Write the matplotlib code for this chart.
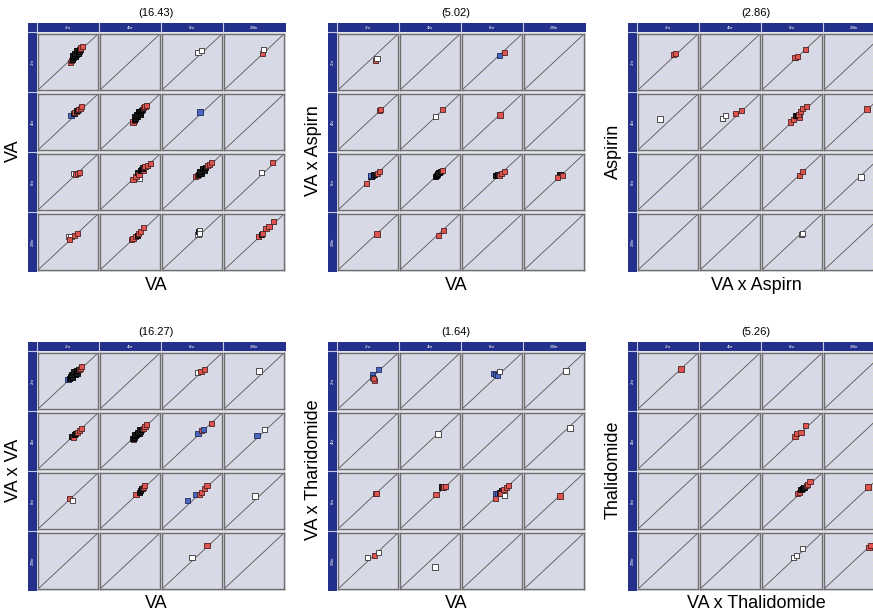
import matplotlib.pyplot as plt
from matplotlib.patches import Rectangle

W, H = 873, 612

TIMES = ['2hr', '4hr', '8hr', '24hr']
TITLES = ['(16.43)', '(5.02)', '(2.86)', '(16.27)', '(1.64)', '(5.26)']
XLABELS = ['VA', 'VA', 'VA x Aspirn', 'VA', 'VA', 'VA x Thalidomide']
YLABELS = ['VA', 'VA x Aspirn', 'Aspirin', 'VA x VA', 'VA x Tharidomide', 'Thalidomide']

# points per panel: (row, col, x, y, kind)   kind: r=red b=blue o=open k=black
va_va = [
    (0, 0, 0.54, 0.49, 'r'), (0, 0, 0.56, 0.53, 'r'), (0, 0, 0.58, 0.56, 'r'), (0, 0, 0.57, 0.55, 'k'),
    (0, 0, 0.59, 0.58, 'k'), (0, 0, 0.60, 0.61, 'k'), (0, 0, 0.62, 0.60, 'k'), (0, 0, 0.62, 0.64, 'k'),
    (0, 0, 0.64, 0.63, 'k'), (0, 0, 0.64, 0.67, 'k'), (0, 0, 0.66, 0.66, 'k'), (0, 0, 0.67, 0.70, 'k'),
    (0, 0, 0.58, 0.62, 'k'), (0, 0, 0.61, 0.66, 'k'), (0, 0, 0.65, 0.71, 'k'), (0, 0, 0.68, 0.66, 'k'),
    (0, 0, 0.69, 0.69, 'k'), (0, 0, 0.70, 0.73, 'k'), (0, 0, 0.71, 0.75, 'r'), (0, 0, 0.74, 0.77, 'r'),
    (0, 2, 0.60, 0.67, 'o'), (0, 2, 0.66, 0.71, 'o'),
    (0, 3, 0.64, 0.65, 'r'), (0, 3, 0.66, 0.73, 'o'),
    (1, 0, 0.55, 0.62, 'b'), (1, 0, 0.60, 0.66, 'k'), (1, 0, 0.61, 0.67, 'r'), (1, 0, 0.64, 0.68, 'r'),
    (1, 0, 0.65, 0.71, 'k'), (1, 0, 0.67, 0.72, 'r'), (1, 0, 0.71, 0.74, 'r'), (1, 0, 0.73, 0.77, 'r'),
    (1, 1, 0.55, 0.50, 'r'), (1, 1, 0.58, 0.52, 'r'), (1, 1, 0.57, 0.54, 'k'), (1, 1, 0.59, 0.56, 'k'),
    (1, 1, 0.60, 0.60, 'k'), (1, 1, 0.62, 0.59, 'k'), (1, 1, 0.63, 0.63, 'k'), (1, 1, 0.65, 0.65, 'k'),
    (1, 1, 0.58, 0.59, 'k'), (1, 1, 0.61, 0.64, 'k'), (1, 1, 0.64, 0.69, 'k'), (1, 1, 0.67, 0.63, 'k'),
    (1, 1, 0.66, 0.68, 'k'), (1, 1, 0.68, 0.67, 'k'), (1, 1, 0.69, 0.71, 'k'), (1, 1, 0.71, 0.73, 'k'),
    (1, 1, 0.72, 0.76, 'r'), (1, 1, 0.75, 0.77, 'r'), (1, 1, 0.78, 0.80, 'r'),
    (1, 2, 0.63, 0.68, 'b'),
    (2, 0, 0.59, 0.66, 'o'), (2, 0, 0.63, 0.64, 'r'), (2, 0, 0.66, 0.66, 'r'), (2, 0, 0.69, 0.67, 'r'),
    (2, 1, 0.55, 0.54, 'r'), (2, 1, 0.66, 0.56, 'o'), (2, 1, 0.60, 0.59, 'r'), (2, 1, 0.63, 0.67, 'k'),
    (2, 1, 0.65, 0.63, 'r'), (2, 1, 0.67, 0.70, 'k'), (2, 1, 0.69, 0.72, 'k'), (2, 1, 0.72, 0.70, 'r'),
    (2, 1, 0.71, 0.75, 'k'), (2, 1, 0.75, 0.77, 'r'), (2, 1, 0.79, 0.80, 'r'), (2, 1, 0.84, 0.83, 'r'),
    (2, 2, 0.56, 0.59, 'r'), (2, 2, 0.59, 0.61, 'r'), (2, 2, 0.61, 0.64, 'k'), (2, 2, 0.63, 0.67, 'k'),
    (2, 2, 0.65, 0.66, 'k'), (2, 2, 0.66, 0.69, 'k'), (2, 2, 0.68, 0.72, 'k'), (2, 2, 0.70, 0.74, 'k'),
    (2, 2, 0.62, 0.69, 'k'), (2, 2, 0.67, 0.74, 'k'), (2, 2, 0.71, 0.70, 'k'),
    (2, 2, 0.73, 0.76, 'k'), (2, 2, 0.76, 0.79, 'r'), (2, 2, 0.79, 0.82, 'r'), (2, 2, 0.82, 0.84, 'r'),
    (2, 3, 0.62, 0.67, 'o'), (2, 3, 0.81, 0.85, 'r'),
    (3, 0, 0.51, 0.60, 'o'), (3, 0, 0.55, 0.59, 'o'), (3, 0, 0.53, 0.54, 'r'), (3, 0, 0.61, 0.62, 'r'),
    (3, 0, 0.66, 0.66, 'r'),
    (3, 1, 0.52, 0.54, 'r'), (3, 1, 0.55, 0.56, 'r'), (3, 1, 0.59, 0.60, 'r'), (3, 1, 0.62, 0.62, 'k'),
    (3, 1, 0.64, 0.65, 'r'), (3, 1, 0.67, 0.69, 'r'), (3, 1, 0.73, 0.76, 'r'),
    (3, 2, 0.60, 0.63, 'o'), (3, 2, 0.61, 0.68, 'k'), (3, 2, 0.62, 0.70, 'o'), (3, 2, 0.63, 0.66, 'o'),
    (3, 3, 0.58, 0.59, 'r'), (3, 3, 0.62, 0.64, 'k'), (3, 3, 0.64, 0.65, 'r'), (3, 3, 0.70, 0.74, 'r'),
    (3, 3, 0.75, 0.78, 'r'), (3, 3, 0.82, 0.87, 'r'),
]

vaasp_va = [
    (0, 0, 0.62, 0.52, 'r'), (0, 0, 0.65, 0.56, 'o'),
    (0, 2, 0.62, 0.62, 'b'), (0, 2, 0.71, 0.67, 'r'),
    (1, 0, 0.69, 0.70, 'r'), (1, 0, 0.71, 0.72, 'r'),
    (1, 1, 0.59, 0.59, 'o'), (1, 1, 0.71, 0.72, 'r'),
    (1, 2, 0.63, 0.63, 'r'),
    (2, 0, 0.47, 0.47, 'r'), (2, 0, 0.55, 0.59, 'k'), (2, 0, 0.57, 0.61, 'k'), (2, 0, 0.54, 0.62, 'b'),
    (2, 0, 0.60, 0.64, 'k'), (2, 0, 0.66, 0.65, 'r'), (2, 0, 0.69, 0.69, 'r'),
    (2, 1, 0.59, 0.59, 'k'), (2, 1, 0.61, 0.62, 'k'), (2, 1, 0.63, 0.64, 'k'), (2, 1, 0.65, 0.67, 'k'),
    (2, 1, 0.62, 0.66, 'k'), (2, 1, 0.67, 0.69, 'k'), (2, 1, 0.71, 0.71, 'r'),
    (2, 2, 0.56, 0.61, 'k'), (2, 2, 0.59, 0.63, 'k'), (2, 2, 0.63, 0.62, 'r'), (2, 2, 0.66, 0.66, 'r'),
    (2, 2, 0.71, 0.69, 'r'),
    (2, 3, 0.60, 0.63, 'k'), (2, 3, 0.56, 0.58, 'r'), (2, 3, 0.64, 0.62, 'r'),
    (3, 0, 0.65, 0.65, 'r'),
    (3, 1, 0.64, 0.62, 'r'), (3, 1, 0.72, 0.70, 'r'),
]

asp_vaasp = [
    (0, 0, 0.59, 0.63, 'r'), (0, 0, 0.63, 0.65, 'r'),
    (0, 2, 0.55, 0.58, 'r'), (0, 2, 0.59, 0.59, 'r'), (0, 2, 0.72, 0.73, 'r'),
    (1, 0, 0.37, 0.55, 'o'),
    (1, 1, 0.38, 0.57, 'o'), (1, 1, 0.42, 0.61, 'o'), (1, 1, 0.59, 0.65, 'r'), (1, 1, 0.69, 0.71, 'r'),
    (1, 2, 0.47, 0.50, 'r'), (1, 2, 0.53, 0.55, 'r'), (1, 2, 0.56, 0.62, 'k'), (1, 2, 0.59, 0.61, 'k'),
    (1, 2, 0.63, 0.58, 'r'), (1, 2, 0.61, 0.63, 'r'), (1, 2, 0.64, 0.68, 'r'), (1, 2, 0.67, 0.74, 'r'),
    (1, 2, 0.74, 0.77, 'r'),
    (1, 3, 0.71, 0.74, 'r'),
    (2, 2, 0.62, 0.62, 'r'), (2, 2, 0.68, 0.68, 'r'),
    (2, 3, 0.62, 0.59, 'o'),
    (3, 2, 0.66, 0.64, 'o'), (3, 2, 0.67, 0.65, 'o'),
]

vava_va = [
    (0, 0, 0.50, 0.52, 'b'), (0, 0, 0.53, 0.55, 'k'), (0, 0, 0.55, 0.58, 'k'), (0, 0, 0.57, 0.57, 'k'),
    (0, 0, 0.58, 0.61, 'k'), (0, 0, 0.60, 0.63, 'k'), (0, 0, 0.62, 0.62, 'k'), (0, 0, 0.63, 0.66, 'k'),
    (0, 0, 0.56, 0.62, 'k'), (0, 0, 0.60, 0.67, 'k'), (0, 0, 0.65, 0.64, 'k'),
    (0, 0, 0.65, 0.68, 'k'), (0, 0, 0.67, 0.70, 'k'), (0, 0, 0.69, 0.70, 'r'), (0, 0, 0.71, 0.73, 'r'),
    (0, 0, 0.73, 0.76, 'r'),
    (0, 2, 0.59, 0.65, 'o'), (0, 2, 0.65, 0.67, 'r'), (0, 2, 0.71, 0.70, 'r'),
    (0, 3, 0.58, 0.67, 'o'),
    (1, 0, 0.56, 0.58, 'k'), (1, 0, 0.59, 0.57, 'r'), (1, 0, 0.61, 0.62, 'k'), (1, 0, 0.63, 0.64, 'k'),
    (1, 0, 0.66, 0.66, 'r'), (1, 0, 0.69, 0.69, 'r'), (1, 0, 0.73, 0.72, 'r'),
    (1, 1, 0.56, 0.53, 'r'), (1, 1, 0.55, 0.54, 'k'), (1, 1, 0.57, 0.56, 'k'), (1, 1, 0.59, 0.59, 'k'),
    (1, 1, 0.61, 0.61, 'k'), (1, 1, 0.63, 0.63, 'k'), (1, 1, 0.65, 0.64, 'k'), (1, 1, 0.67, 0.67, 'k'),
    (1, 1, 0.58, 0.62, 'k'), (1, 1, 0.62, 0.66, 'k'), (1, 1, 0.66, 0.70, 'k'),
    (1, 1, 0.69, 0.70, 'k'), (1, 1, 0.72, 0.73, 'r'), (1, 1, 0.75, 0.76, 'r'), (1, 1, 0.78, 0.79, 'r'),
    (1, 2, 0.60, 0.63, 'b'), (1, 2, 0.66, 0.68, 'r'), (1, 2, 0.69, 0.71, 'b'), (1, 2, 0.82, 0.82, 'r'),
    (1, 3, 0.55, 0.59, 'b'), (1, 3, 0.68, 0.70, 'o'),
    (2, 0, 0.53, 0.55, 'r'), (2, 0, 0.58, 0.51, 'o'),
    (2, 1, 0.60, 0.62, 'r'), (2, 1, 0.66, 0.66, 'k'), (2, 1, 0.68, 0.69, 'k'), (2, 1, 0.70, 0.72, 'k'),
    (2, 1, 0.72, 0.74, 'r'), (2, 1, 0.74, 0.77, 'r'),
    (2, 2, 0.43, 0.51, 'b'), (2, 2, 0.56, 0.62, 'b'), (2, 2, 0.62, 0.62, 'r'), (2, 2, 0.66, 0.66, 'r'),
    (2, 2, 0.71, 0.72, 'r'), (2, 2, 0.75, 0.77, 'r'),
    (2, 3, 0.52, 0.59, 'o'),
    (3, 2, 0.50, 0.57, 'o'), (3, 2, 0.75, 0.78, 'r'),
]

vathal_va = [
    (0, 0, 0.57, 0.62, 'b'), (0, 0, 0.57, 0.57, 'b'), (0, 0, 0.61, 0.51, 'r'), (0, 0, 0.59, 0.54, 'r'),
    (0, 0, 0.67, 0.71, 'b'),
    (0, 2, 0.52, 0.63, 'b'), (0, 2, 0.56, 0.62, 'b'), (0, 2, 0.59, 0.60, 'b'), (0, 2, 0.63, 0.67, 'o'),
    (0, 3, 0.70, 0.68, 'o'),
    (1, 1, 0.64, 0.63, 'o'),
    (1, 3, 0.76, 0.73, 'o'),
    (2, 0, 0.62, 0.63, 'r'), (2, 0, 0.64, 0.64, 'r'),
    (2, 1, 0.60, 0.62, 'r'), (2, 1, 0.70, 0.75, 'k'), (2, 1, 0.72, 0.75, 'r'), (2, 1, 0.76, 0.76, 'r'),
    (2, 2, 0.56, 0.55, 'r'), (2, 2, 0.56, 0.63, 'b'), (2, 2, 0.60, 0.64, 'b'), (2, 2, 0.63, 0.66, 'k'),
    (2, 2, 0.66, 0.69, 'k'), (2, 2, 0.65, 0.63, 'r'), (2, 2, 0.71, 0.60, 'o'), (2, 2, 0.70, 0.70, 'r'),
    (2, 2, 0.74, 0.74, 'r'), (2, 2, 0.78, 0.78, 'r'),
    (2, 3, 0.60, 0.59, 'r'),
    (3, 0, 0.49, 0.57, 'o'), (3, 0, 0.61, 0.60, 'r'), (3, 0, 0.67, 0.66, 'o'),
    (3, 1, 0.58, 0.39, 'o'),
]

thal_vathal = [
    (0, 0, 0.71, 0.72, 'r'),
    (1, 2, 0.55, 0.58, 'r'), (1, 2, 0.58, 0.63, 'r'), (1, 2, 0.65, 0.66, 'r'), (1, 2, 0.72, 0.77, 'r'),
    (2, 2, 0.59, 0.63, 'r'), (2, 2, 0.62, 0.65, 'r'), (2, 2, 0.65, 0.70, 'k'), (2, 2, 0.68, 0.73, 'k'),
    (2, 2, 0.70, 0.74, 'k'), (2, 2, 0.74, 0.78, 'r'), (2, 2, 0.76, 0.80, 'r'), (2, 2, 0.80, 0.85, 'r'),
    (2, 3, 0.74, 0.75, 'r'),
    (3, 2, 0.53, 0.57, 'o'), (3, 2, 0.57, 0.60, 'o'), (3, 2, 0.68, 0.73, 'o'),
    (3, 3, 0.75, 0.74, 'r'), (3, 3, 0.78, 0.78, 'r'),
]

POINTS = [va_va, vaasp_va, asp_vaasp, vava_va, vathal_va, thal_vathal]

# top-left corner (pixels) of each panel's blue frame
ORIGINS = [(28, 23), (328, 23), (628, 23), (28, 342), (328, 342), (628, 342)]

FACE = {'r': '#e0544f', 'b': '#4a67c2', 'o': 'white', 'k': '#1a1a1a'}
EDGE = {'r': '#4a2222', 'b': '#1f2a5a', 'o': '#333333', 'k': '#000000'}
NAVY = '#24318c'

plt.rcParams['font.family'] = ['Liberation Sans', 'DejaVu Sans']
fig = plt.figure(figsize=(W / 100, H / 100), dpi=100)


def px_axes(x, y, w, h):
    # axes placed in pixel coordinates measured from the top-left corner
    return fig.add_axes([x / W, 1 - (y + h) / H, w / W, h / H])


def draw_panel(k):
    x0, y0 = ORIGINS[k]

    # frame with the blue strips
    deco = px_axes(x0, y0, 258, 250)
    deco.set_xlim(0, 258)
    deco.set_ylim(250, 0)
    deco.axis('off')
    deco.add_patch(Rectangle((9, 9), 249, 240, fc='#e4e4ec', ec='none'))
    deco.add_patch(Rectangle((0, 0), 258, 9, fc=NAVY, ec='none'))
    deco.add_patch(Rectangle((0, 0), 9, 249, fc=NAVY, ec='none'))
    for j in range(4):
        deco.plot([9 + 62 * j, 9 + 62 * j], [0, 9], color='#c8cce8', lw=0.8)
        deco.plot([0, 9], [9 + 60 * j, 9 + 60 * j], color='#c8cce8', lw=0.8)
        deco.text(40 + 62 * j, 4.8, TIMES[j], color='white', fontsize=3.2,
                  ha='center', va='center')
        deco.text(4.6, 39 + 60 * j, TIMES[j], color='white', fontsize=3.2,
                  ha='center', va='center', rotation=90)

    # the 4x4 grid of scatter cells
    pts = POINTS[k]
    for i in range(4):
        for j in range(4):
            ax = px_axes(x0 + 10 + 62 * j, y0 + 11 + 60 * i, 60, 56)
            ax.set_facecolor('#d8d9e6')
            ax.set_xlim(0, 1)
            ax.set_ylim(0, 1)
            ax.set_xticks([0.2, 0.4, 0.6, 0.8])
            ax.set_yticks([0.2, 0.4, 0.6, 0.8])
            ax.tick_params(length=0, labelbottom=False, labelleft=False)
            ax.grid(color='#e4dfba', linestyle=(0, (1, 6)), lw=0.6)
            for s in ax.spines.values():
                s.set_color('#6e6e6e')
                s.set_linewidth(1.0)
            ax.plot([0, 1], [0, 1], color='#555555', lw=0.6)
            cell = [p for p in pts if p[0] == i and p[1] == j]
            if cell:
                ax.scatter([p[2] for p in cell], [p[3] for p in cell], marker='s', s=13,
                           c=[FACE[p[4]] for p in cell], edgecolors=[EDGE[p[4]] for p in cell],
                           linewidths=0.6, zorder=3)

    # texts around the panel
    fig.text((x0 + 128) / W, 1 - (y0 - 10) / H, TITLES[k], fontsize=8, ha='center', va='center')
    fig.text((x0 + 128) / W, 1 - (y0 + 262) / H, XLABELS[k], fontsize=13, ha='center', va='center')
    fig.text((x0 - 15) / W, 1 - (y0 + 128) / H, YLABELS[k], fontsize=13, ha='center', va='center',
             rotation=90)


for k in range(6):
    draw_panel(k)

fig.savefig('out.png', dpi=100)
